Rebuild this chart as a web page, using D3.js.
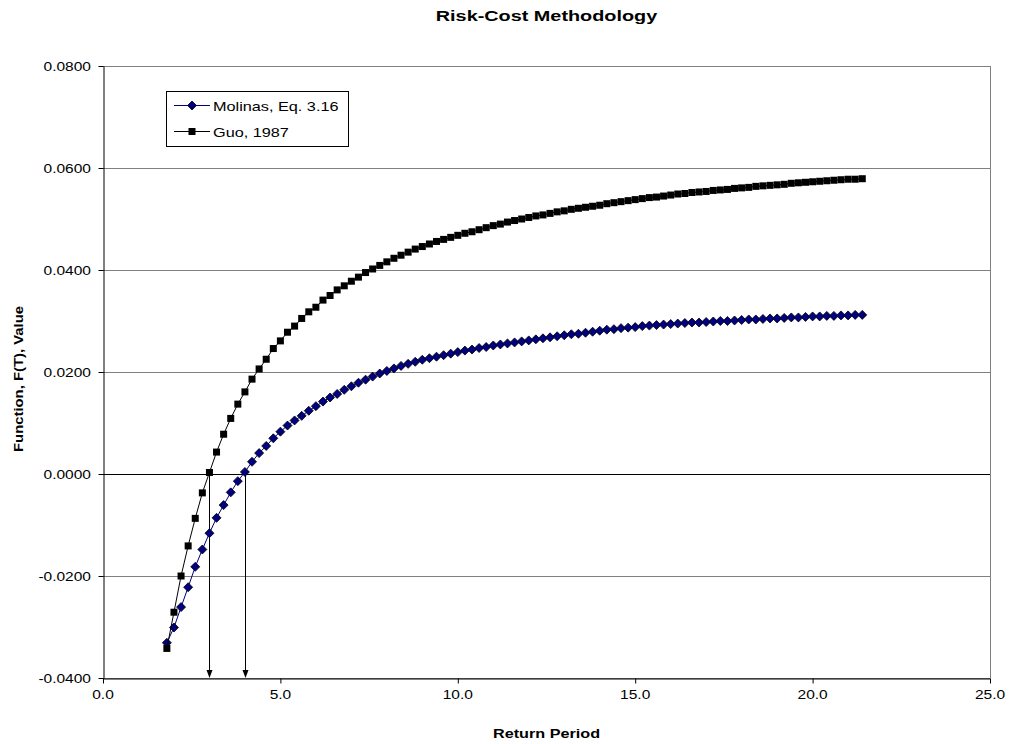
<!DOCTYPE html>
<html>
<head>
<meta charset="utf-8">
<script src="https://cdn.jsdelivr.net/npm/d3@7"></script>
<style>
  body { margin: 0; background: #fff; }
  text { font-family: "Liberation Sans", Arial, sans-serif; fill: #000; }
</style>
</head>
<body>
<div id="chart"></div>
<script>
// return period, years (one marker every 0.2)
const returnPeriod = [
  1.8, 2.0, 2.2, 2.4, 2.6, 2.8, 3.0, 3.2, 3.4, 3.6, 3.8, 4.0, 4.2, 4.4, 4.6, 4.8,
  5.0, 5.2, 5.4, 5.6, 5.8, 6.0, 6.2, 6.4, 6.6, 6.8, 7.0, 7.2, 7.4, 7.6, 7.8,
  8.0, 8.2, 8.4, 8.6, 8.8, 9.0, 9.2, 9.4, 9.6, 9.8, 10.0, 10.2, 10.4, 10.6, 10.8,
  11.0, 11.2, 11.4, 11.6, 11.8, 12.0, 12.2, 12.4, 12.6, 12.8, 13.0, 13.2, 13.4, 13.6, 13.8,
  14.0, 14.2, 14.4, 14.6, 14.8, 15.0, 15.2, 15.4, 15.6, 15.8, 16.0, 16.2, 16.4, 16.6, 16.8,
  17.0, 17.2, 17.4, 17.6, 17.8, 18.0, 18.2, 18.4, 18.6, 18.8, 19.0, 19.2, 19.4, 19.6, 19.8,
  20.0, 20.2, 20.4, 20.6, 20.8, 21.0, 21.2, 21.4
];

const molinas = [
  -0.0331, -0.0301, -0.0261, -0.0222, -0.0182, -0.0148, -0.0116, -0.0086, -0.0061, -0.0036, -0.0014, 0.0004, 0.0024, 0.0041, 0.0055, 0.0070,
  0.0083, 0.0095, 0.0105, 0.0114, 0.0124, 0.0133, 0.0142, 0.0150, 0.0157, 0.0165, 0.0172, 0.0179, 0.0185, 0.0191, 0.0197,
  0.0202, 0.0207, 0.0212, 0.0216, 0.0220, 0.0224, 0.0227, 0.0230, 0.0233, 0.0236, 0.0239, 0.0242, 0.0244, 0.0247, 0.0249,
  0.0252, 0.0254, 0.0256, 0.0258, 0.0260, 0.0262, 0.0264, 0.0266, 0.0268, 0.0270, 0.0272, 0.0274, 0.0275, 0.0277, 0.0279,
  0.0281, 0.0283, 0.0284, 0.0286, 0.0287, 0.0288, 0.0290, 0.0291, 0.0292, 0.0293, 0.0294, 0.0295, 0.0296, 0.0297, 0.0297,
  0.0298, 0.0299, 0.0300, 0.0300, 0.0301, 0.0302, 0.0303, 0.0303, 0.0304, 0.0305, 0.0305, 0.0306, 0.0307, 0.0307, 0.0308,
  0.0309, 0.0309, 0.0310, 0.0310, 0.0311, 0.0311, 0.0312, 0.0312
];

const guo = [
  -0.0342, -0.0271, -0.0200, -0.0141, -0.0087, -0.0037, 0.0003, 0.0043, 0.0078, 0.0109, 0.0137, 0.0161, 0.0186, 0.0206, 0.0225, 0.0246,
  0.0261, 0.0278, 0.0290, 0.0305, 0.0318, 0.0327, 0.0341, 0.0350, 0.0361, 0.0369, 0.0378, 0.0386, 0.0395, 0.0402, 0.0409,
  0.0416, 0.0423, 0.0429, 0.0435, 0.0441, 0.0446, 0.0451, 0.0456, 0.0460, 0.0464, 0.0468, 0.0472, 0.0475, 0.0479, 0.0483,
  0.0487, 0.0490, 0.0494, 0.0497, 0.0500, 0.0503, 0.0506, 0.0508, 0.0511, 0.0514, 0.0516, 0.0519, 0.0521, 0.0523, 0.0525,
  0.0527, 0.0530, 0.0532, 0.0534, 0.0536, 0.0538, 0.0540, 0.0542, 0.0543, 0.0545, 0.0547, 0.0549, 0.0550, 0.0552, 0.0553,
  0.0554, 0.0556, 0.0557, 0.0558, 0.0560, 0.0561, 0.0562, 0.0564, 0.0565, 0.0566, 0.0567, 0.0568, 0.0570, 0.0571, 0.0572,
  0.0573, 0.0574, 0.0575, 0.0576, 0.0577, 0.0578, 0.0578, 0.0579
];

// zero crossings marked with arrows down to the axis
const crossings = [3.0, 4.0];

const xTicks = [0, 5, 10, 15, 20, 25];
const yTicks = [-0.04, -0.02, 0, 0.02, 0.04, 0.06, 0.08];

const width = 1013, height = 744;
const plot = { left: 103, right: 990, top: 66, bottom: 678 };

const svg = d3.select("#chart").append("svg")
    .attr("width", width)
    .attr("height", height);

const x = d3.scaleLinear().domain([0, 25]).range([plot.left, plot.right]);
const y = d3.scaleLinear().domain([-0.04, 0.08]).range([plot.bottom, plot.top]);

// text is drawn a bit wider than the font, like the original export
function addText(parent, px, py, str, opts = {}) {
    const sx = opts.sx || 1.15;
    const rot = opts.rotate ? ` rotate(${opts.rotate})` : "";
    return parent.append("text")
        .attr("transform", `translate(${px},${py})${rot} scale(${sx},1)`)
        .attr("text-anchor", opts.anchor || "start")
        .style("font-size", (opts.size || 13) + "px")
        .style("font-weight", opts.bold ? "bold" : "normal")
        .text(str);
}

// markers
const diamond = "M0,-4.5L4.5,0L0,4.5L-4.5,0Z";
function drawMarker(parent, s, px, py) {
    if (s.marker === "diamond") {
        parent.append("path")
            .attr("transform", `translate(${px},${py})`)
            .attr("d", diamond)
            .attr("fill", s.fill)
            .attr("stroke", "#000")
            .attr("stroke-width", 0.8);
    } else {
        parent.append("rect")
            .attr("x", px - 3.5).attr("y", py - 3.5)
            .attr("width", 7).attr("height", 7)
            .attr("fill", s.fill);
    }
}

// gridlines
svg.append("g").selectAll("line")
    .data(yTicks)
    .join("line")
    .attr("x1", plot.left).attr("x2", plot.right)
    .attr("y1", d => y(d) + 0.5).attr("y2", d => y(d) + 0.5)
    .attr("stroke", "#808080");

// right border
svg.append("line")
    .attr("x1", plot.right + 0.5).attr("x2", plot.right + 0.5)
    .attr("y1", plot.top).attr("y2", plot.bottom)
    .attr("stroke", "#808080");

// axes
const fmtY = v => d3.format(".4f")(v).replace("\u2212", "-");
const yAxis = svg.append("g")
    .attr("transform", `translate(${plot.left + 0.5},0)`)
    .call(d3.axisLeft(y).tickValues(yTicks).tickSize(5).tickSizeOuter(0).tickFormat(""));
const xAxis = svg.append("g")
    .attr("transform", `translate(0,${plot.bottom + 0.5})`)
    .call(d3.axisBottom(x).tickValues(xTicks).tickSize(5).tickSizeOuter(0).tickFormat(""));
[yAxis, xAxis].forEach(a => {
    a.select(".domain").attr("stroke", "#000");
    a.selectAll(".tick line").attr("stroke", "#000");
});

const labels = svg.append("g");
yTicks.forEach(v => addText(labels, plot.left - 12, y(v) + 5, fmtY(v), { anchor: "end", size: 13.5 }));
xTicks.forEach(v => addText(labels, x(v), 699, d3.format(".1f")(v), { anchor: "middle", size: 13.5 }));

// zero line and arrows
const marks = svg.append("g");
marks.append("line")
    .attr("x1", plot.left).attr("x2", plot.right)
    .attr("y1", y(0) + 0.5).attr("y2", y(0) + 0.5)
    .attr("stroke", "#000");
crossings.forEach(t => {
    const cx = Math.round(x(t)) + 0.5;
    marks.append("line")
        .attr("x1", cx).attr("x2", cx)
        .attr("y1", y(0)).attr("y2", plot.bottom - 7)
        .attr("stroke", "#000");
    marks.append("path")
        .attr("d", `M${cx - 3},${plot.bottom - 8} L${cx + 3},${plot.bottom - 8} L${cx},${plot.bottom} Z`)
        .attr("fill", "#000");
});

// series
const seriesList = [
    { name: "Molinas, Eq. 3.16", values: molinas, color: "#000080", fill: "#000080", marker: "diamond" },
    { name: "Guo, 1987", values: guo, color: "#000000", fill: "#000000", marker: "square" }
];

const line = d3.line()
    .x(d => x(d[0]))
    .y(d => y(d[1]));

seriesList.forEach(s => {
    const pts = returnPeriod.map((t, i) => [t, s.values[i]]);
    const g = svg.append("g");
    g.append("path")
        .attr("d", line(pts))
        .attr("fill", "none")
        .attr("stroke", s.color)
        .attr("stroke-width", 1);
    pts.forEach(d => drawMarker(g, s, x(d[0]), y(d[1])));
});

// legend
const legend = svg.append("g");
legend.append("rect")
    .attr("x", 166.5).attr("y", 91.5)
    .attr("width", 182).attr("height", 55)
    .attr("fill", "#fff")
    .attr("stroke", "#000");
seriesList.forEach((s, i) => {
    const ly = 105.5 + i * 26;
    legend.append("line")
        .attr("x1", 174).attr("x2", 210)
        .attr("y1", ly).attr("y2", ly)
        .attr("stroke", s.color);
    drawMarker(legend, s, 192, ly);
    addText(legend, 213, ly + 5, s.name, { size: 13, sx: 1.25 });
});

// titles
addText(svg, (plot.left + plot.right) / 2, 21, "Risk-Cost Methodology", { anchor: "middle", size: 15.5, bold: true, sx: 1.28 });
addText(svg, (plot.left + plot.right) / 2, 738, "Return Period", { anchor: "middle", size: 13.5, bold: true, sx: 1.2 });
addText(svg, 23, 379, "Function, F(T), Value", { anchor: "middle", size: 13.5, bold: true, sx: 1.1, rotate: -90 });
</script>
</body>
</html>
